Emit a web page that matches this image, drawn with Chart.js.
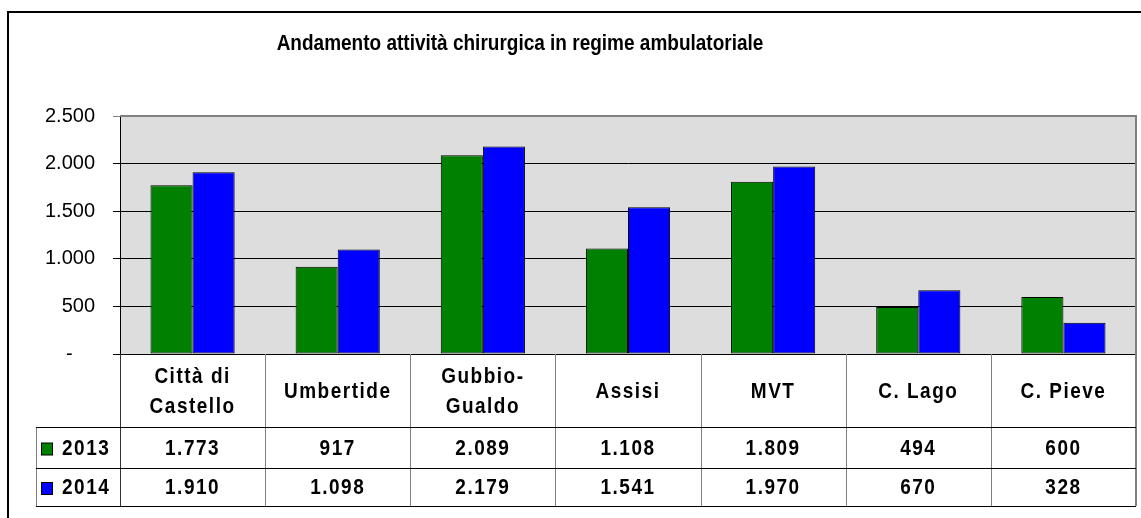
<!DOCTYPE html>
<html>
<head>
<meta charset="utf-8">
<script src="https://cdn.jsdelivr.net/npm/chart.js@4"></script>
<style>
  body { margin: 0; background: #fff; }
  canvas { display: block; }
</style>
</head>
<body>
<canvas id="myChart" width="1141" height="518"></canvas>
<script>
'use strict';

const chartTitle = 'Andamento attività chirurgica in regime ambulatoriale';
const categories = [['Città di', 'Castello'], 'Umbertide', ['Gubbio-', 'Gualdo'], 'Assisi', 'MVT', 'C. Lago', 'C. Pieve'];
const seriesNames = ['2013', '2014'];
const values2013 = [1773, 917, 2089, 1108, 1809, 494, 600];
const values2014 = [1910, 1098, 2179, 1541, 1970, 670, 328];
const yTicks = [0, 500, 1000, 1500, 2000, 2500];

const FONT = '"Liberation Sans", Arial, sans-serif';
const GREEN = '#008000';
const BLUE = '#0000FF';
const STRETCH = 1.15;

function fmt(v) {
  return String(v).replace(/\B(?=(\d{3})+(?!\d))/g, '.');
}

// text a bit taller than wide, like the office rendering
function tallText(ctx, text, x, y) {
  ctx.save();
  ctx.translate(x, y);
  ctx.scale(1, STRETCH);
  ctx.fillText(text, 0, 0);
  ctx.restore();
}

const framePlugin = {
  id: 'frame',
  beforeDraw(chart) {
    const ctx = chart.ctx;
    const a = chart.chartArea;
    ctx.save();
    ctx.fillStyle = '#fff';
    ctx.fillRect(0, 0, chart.width, chart.height);
    ctx.fillStyle = '#DDDDDD';
    ctx.fillRect(a.left, a.top, a.right - a.left, a.bottom - a.top);
    ctx.strokeStyle = '#000';
    ctx.lineWidth = 2;
    ctx.beginPath();
    ctx.moveTo(8, chart.height);
    ctx.lineTo(8, 12);
    ctx.lineTo(chart.width, 12);
    ctx.stroke();

    // title
    ctx.fillStyle = '#000';
    ctx.font = 'bold 19px ' + FONT;
    ctx.textAlign = 'center';
    ctx.textBaseline = 'middle';
    tallText(ctx, chartTitle, 520, 44);
    ctx.restore();
  },
  afterDraw(chart) {
    const ctx = chart.ctx;
    const a = chart.chartArea;
    const x = chart.scales.x;
    const w = (a.right - a.left) / categories.length;
    const headTop = a.bottom;
    const headBottom = 427;
    const rows = [427, 468, 506];
    const keyLeft = 36;

    ctx.save();
    // plot border top/right
    ctx.strokeStyle = '#808080';
    ctx.lineWidth = 2;
    ctx.beginPath();
    ctx.moveTo(a.left, a.top);
    ctx.lineTo(a.right, a.top);
    ctx.lineTo(a.right, rows[2]);
    ctx.stroke();

    // vertical lines
    ctx.lineWidth = 1;
    ctx.strokeStyle = '#808080';
    ctx.beginPath();
    for (let i = 1; i < categories.length; i++) {
      const xx = Math.round(a.left + i * w) + 0.5;
      ctx.moveTo(xx, headTop);
      ctx.lineTo(xx, rows[2]);
    }
    ctx.moveTo(keyLeft + 0.5, rows[0]);
    ctx.lineTo(keyLeft + 0.5, rows[2]);
    ctx.stroke();
    ctx.strokeStyle = '#333';
    ctx.beginPath();
    ctx.moveTo(a.left + 0.5, headTop);
    ctx.lineTo(a.left + 0.5, rows[2]);
    ctx.stroke();

    // horizontal lines
    ctx.strokeStyle = '#000';
    ctx.beginPath();
    rows.forEach(r => {
      ctx.moveTo(keyLeft, r + 0.5);
      ctx.lineTo(a.right, r + 0.5);
    });
    ctx.stroke();

    // header labels
    ctx.fillStyle = '#000';
    ctx.font = 'bold 19px ' + FONT;
    ctx.letterSpacing = '1.5px';
    ctx.textAlign = 'center';
    ctx.textBaseline = 'middle';
    categories.forEach((c, i) => {
      const cx = x.getPixelForValue(i);
      const lines = Array.isArray(c) ? c : [c];
      const mid = (headTop + headBottom) / 2 + 1;
      lines.forEach((t, j) => {
        const ty = mid + (j - (lines.length - 1) / 2) * 30;
        tallText(ctx, t, cx, ty);
      });
    });

    // data rows
    const data = [values2013, values2014];
    const colors = [GREEN, BLUE];
    data.forEach((vals, r) => {
      const cy = (rows[r] + rows[r + 1]) / 2 + 1;
      ctx.fillStyle = colors[r];
      ctx.fillRect(41.5, cy - 5.5, 11, 12);
      ctx.strokeStyle = '#000';
      ctx.strokeRect(41.5, cy - 5.5, 11, 12);
      ctx.fillStyle = '#000';
      ctx.textAlign = 'left';
      tallText(ctx, seriesNames[r], 62, cy);
      ctx.textAlign = 'center';
      vals.forEach((v, i) => {
        tallText(ctx, fmt(v), x.getPixelForValue(i), cy);
      });
    });
    ctx.restore();
  }
};

const ctx = document.getElementById('myChart').getContext('2d');

new Chart(ctx, {
  type: 'bar',
  data: {
    labels: categories,
    datasets: [
      {
        label: seriesNames[0],
        data: values2013,
        backgroundColor: GREEN,
        borderColor: '#000',
        borderWidth: 1,
        borderSkipped: false
      },
      {
        label: seriesNames[1],
        data: values2014,
        backgroundColor: BLUE,
        borderColor: '#000',
        borderWidth: 1,
        borderSkipped: false
      }
    ]
  },
  options: {
    responsive: false,
    animation: false,
    layout: { padding: { left: 0, right: 5, top: 116, bottom: 164 } },
    datasets: { bar: { categoryPercentage: 0.58, barPercentage: 1 } },
    plugins: {
      legend: { display: false },
      tooltip: { enabled: false },
      title: { display: false }
    },
    scales: {
      x: {
        type: 'category',
        grid: { display: false },
        border: { display: true, color: '#000', width: 1 },
        ticks: { display: false },
        afterFit(scale) {
          scale.height = 0;
        }
      },
      y: {
        min: 0,
        max: 2500,
        afterBuildTicks(scale) {
          scale.ticks = yTicks.map(v => ({ value: v }));
        },
        afterFit(scale) {
          scale.width = 120;
        },
        border: { display: true, color: '#000', width: 1 },
        grid: {
          color: c => (c.tick && c.tick.value === 2500 ? '#808080' : '#000'),
          lineWidth: 1,
          tickLength: 7
        },
        ticks: {
          color: '#000',
          padding: 18,
          font: { family: FONT, size: 20 },
          callback: v => (v === 0 ? '-    ' : fmt(v))
        }
      }
    }
  },
  plugins: [framePlugin]
});
</script>
</body>
</html>
